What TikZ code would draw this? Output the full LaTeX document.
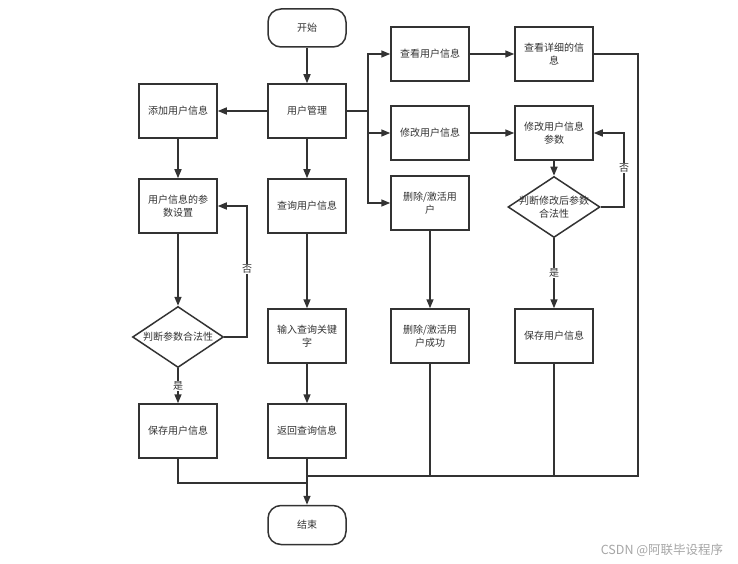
\documentclass[tikz,border=0pt]{standalone}
\usepackage{fontspec}
\setmainfont{Noto Sans CJK SC}
\usetikzlibrary{arrows.meta,shapes.geometric}

\definecolor{linec}{RGB}{51,51,51}
\definecolor{textc}{RGB}{51,51,51}
\tikzset{every picture/.style={line width=1.5pt}}
\tikzset{
  box/.style={draw=linec, fill=white, minimum width=78, minimum height=54, inner sep=0, align=center, text=textc, font=\fontsize{10}{13}\selectfont},
  term/.style={box, rounded corners=13, minimum height=38},
  chk/.style={draw=linec, diamond, fill=white, minimum width=91, minimum height=61, inner sep=0, text=textc, font=\fontsize{10}{13}\selectfont},
  arr/.style={draw=linec, -{Triangle[length=9pt,width=7pt]}},
  ln/.style={draw=linec},
  lab/.style={fill=white, inner sep=1, text=textc, font=\fontsize{10}{12}\selectfont}
}

\begin{document}
\begin{tikzpicture}[x=1pt,y=1pt,yscale=-1,xscale=1]
\path[use as bounding box] (0,0) rectangle (738,564);

%Shape: Terminal
\draw (307,28) node (start) [term] {开始};
\draw (307,525) node (end) [term, minimum height=39] {结束};
%Shape: Rectangle
\draw (307,111) node (mgr) [box] {用户管理};
\draw (178,111) node (add) [box] {添加用户信息};
\draw (178,206) node (param) [box] {用户信息的参\\数设置};
\draw (178,431) node (save1) [box] {保存用户信息};
\draw (307,206) node (query) [box] {查询用户信息};
\draw (307,336) node (input) [box] {输入查询关键\\字};
\draw (307,431) node (ret) [box] {返回查询信息};
\draw (430,54) node (view) [box] {查看用户信息};
\draw (554,54) node (detail) [box] {查看详细的信\\息};
\draw (430,133) node (mod) [box] {修改用户信息};
\draw (554,133) node (modp) [box] {修改用户信息\\参数};
\draw (430,203) node (del) [box] {删除/激活用\\户};
\draw (430,336) node (delok) [box] {删除/激活用\\户成功};
\draw (554,336) node (save2) [box] {保存用户信息};
%Shape: Diamond
\draw (178,337) node (chk1) [chk] {};
\draw (554,207) node (chk2) [chk, minimum width=92] {};
\draw (chk1.center) node [text=textc, font=\fontsize{10}{13}\selectfont] {判断参数合法性};
\draw (chk2.center) node [text=textc, align=center, font=\fontsize{10}{13}\selectfont] {判断修改后参数\\合法性};

%Joints
\coordinate (split) at (368,111);
\coordinate (jl) at (307,483);
\coordinate (jr) at (307,476);

%Straight Lines
\draw [arr] (start) -- (mgr);
\draw [arr] (mgr) -- (add);
\draw [arr] (mgr) -- (query);
\draw [ln] (mgr.east) -- (split);
\draw [arr] (split) |- (view.west);
\draw [arr] (split) |- (mod.west);
\draw [arr] (split) |- (del.west);
\draw [arr] (view) -- (detail);
\draw [arr] (mod) -- (modp);
\draw [arr] (modp) -- (chk2);
\draw [arr] (chk2.east) -- (624,207) |- (modp.east);
\draw (624,168) node [lab] {否};
\draw [arr] (chk2.south) -- (save2.north);
\draw (554,273) node [lab] {是};
\draw [arr] (del) -- (delok);
\draw [arr] (add) -- (param);
\draw [arr] (param) -- (chk1);
\draw [arr] (chk1.east) -- (247,337) |- (param.east);
\draw (247,269) node [lab] {否};
\draw [arr] (chk1.south) -- (save1.north);
\draw (178,386) node [lab] {是};
\draw [arr] (query) -- (input);
\draw [arr] (input) -- (ret);
\draw [arr] (ret) -- (end);
\draw [ln] (save1.south) |- (jl);
\draw [ln] (detail.east) -- (638,54) |- (jr);
\draw [ln] (delok.south) |- (jr);
\draw [ln] (save2.south) |- (jr);

% Text Node
\draw (662,550) node [text=black!35, font=\fontsize{12.5}{14}\selectfont] {CSDN @阿联毕设程序};

\end{tikzpicture}
\end{document}
